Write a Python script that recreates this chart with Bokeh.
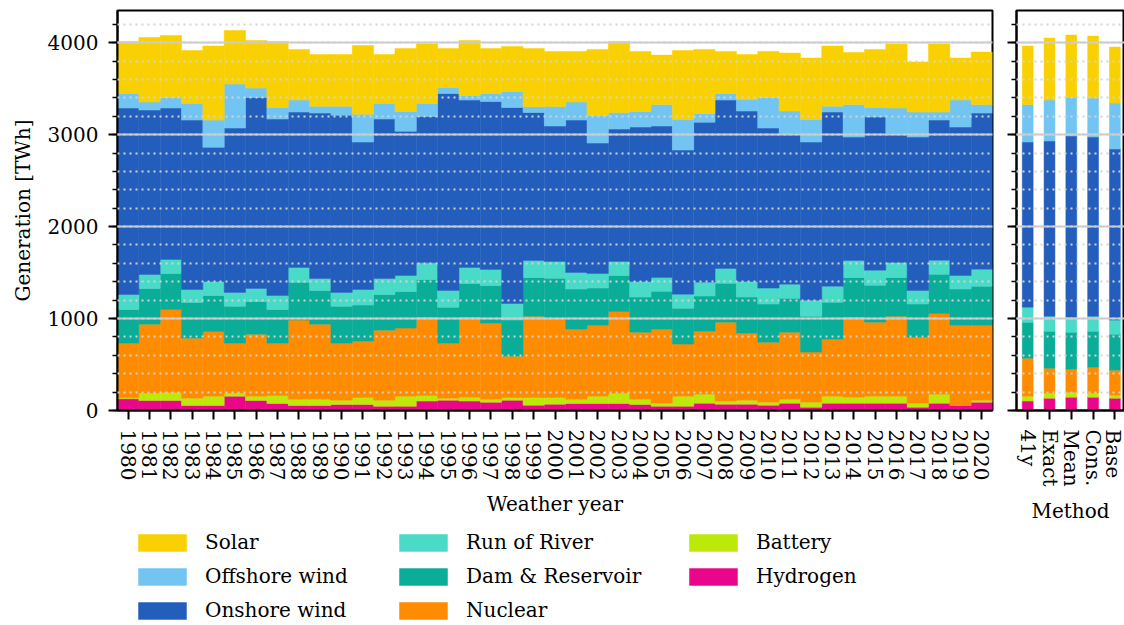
from bokeh.plotting import figure
from bokeh.layouts import row, column
from bokeh.models import (Range1d, FactorRange, Legend, LegendItem, FixedTicker,
                          SingleIntervalTicker, ColumnDataSource, CustomJSTickFormatter)
from bokeh.embed import file_html
from bokeh.resources import INLINE

# ---------------- data ----------------
years = [str(y) for y in range(1980, 2021)]
methods = ["41y", "Exact", "Mean", "Cons.", "Base"]

techs = ["Hydrogen", "Battery", "Nuclear", "Dam & Reservoir", "Run of River",
         "Onshore wind", "Offshore wind", "Solar"]
colors = ["#e9068a", "#bce90a", "#ff8c00", "#0aad98", "#4adbc8",
          "#235ebc", "#72c5f2", "#f9d002"]

# Weather-year values (TWh)
hydrogen = [127, 109, 109, 54, 54, 156, 109, 76, 54, 54, 65, 65, 47, 47, 102, 112, 102, 91, 112, 58,
            69, 76, 76, 76, 65, 47, 47, 80, 69, 69, 58, 80, 36, 80, 80, 80, 80, 36, 80, 58, 91]
battery = [11, 80, 87, 80, 102, 33, 47, 87, 69, 69, 47, 76, 65, 109, 61, 22, 43, 32, 29, 83,
           72, 47, 80, 113, 58, 33, 109, 98, 33, 43, 33, 43, 55, 76, 65, 76, 76, 44, 98, 0, 21]
nuclear = [594, 750, 903, 653, 703, 543, 674, 569, 860, 816, 620, 613, 762, 740, 852, 598, 870, 827, 450, 885,
           864, 762, 772, 888, 729, 805, 566, 685, 859, 729, 652, 729, 544, 620, 870, 805, 870, 718, 877, 870, 816]
dam = [367, 388, 391, 388, 392, 403, 356, 367, 413, 366, 403, 392, 388, 398, 410, 392, 366, 410, 392, 421,
       434, 435, 403, 391, 381, 413, 391, 381, 424, 392, 414, 370, 391, 402, 432, 402, 421, 359, 428, 392, 424]
ror = [163, 152, 153, 141, 152, 149, 141, 152, 159, 131, 149, 170, 174, 174, 181, 181, 174, 174, 181, 185,
       182, 181, 159, 153, 170, 149, 152, 152, 160, 170, 174, 152, 174, 174, 185, 163, 163, 148, 152, 148, 185]
onshore = [2027, 1788, 1646, 1842, 1461, 1787, 2078, 1918, 1690, 1798, 1928, 1603, 1733, 1570, 1592, 2143, 1821, 1827, 2132, 1609,
           1472, 1657, 1418, 1439, 1679, 1646, 1567, 1740, 1831, 1853, 1740, 1639, 1719, 1893, 1341, 1665, 1403, 1668, 1523, 1614, 1697]
offshore = [159, 87, 116, 181, 294, 479, 101, 127, 131, 76, 98, 304, 170, 214, 141, 65, 50, 87, 174, 62,
            214, 196, 301, 181, 170, 236, 333, 95, 72, 130, 334, 243, 246, 65, 356, 105, 276, 272, 87, 294, 95]
solar = [566, 703, 674, 577, 805, 583, 519, 718, 551, 562, 562, 747, 533, 686, 649, 425, 599, 490, 489, 635,
         598, 551, 718, 773, 653, 536, 751, 696, 457, 486, 500, 631, 668, 653, 565, 631, 696, 544, 740, 457, 569]

# Method values (TWh)
m_hydrogen = [102, 134, 145, 145, 134]
m_battery = [54, 55, 54, 44, 33]
m_nuclear = [413, 271, 251, 282, 272]
m_dam = [392, 403, 402, 392, 391]
m_ror = [163, 163, 163, 163, 153]
m_onshore = [1795, 1904, 1969, 1947, 1860]
m_offshore = [410, 446, 421, 425, 500]
m_solar = [634, 674, 678, 674, 609]

src1 = ColumnDataSource(dict(x=years, **{t: v for t, v in zip(
    techs, [hydrogen, battery, nuclear, dam, ror, onshore, offshore, solar])}))
src2 = ColumnDataSource(dict(x=list(range(len(methods))), **{t: v for t, v in zip(
    techs, [m_hydrogen, m_battery, m_nuclear, m_dam, m_ror, m_onshore, m_offshore, m_solar])}))

FONT = "DejaVu Serif"
FS = "20px"
H = 528
TOP = 10
BOTTOM = 118


def style(p):
    p.outline_line_color = "black"
    p.outline_line_width = 2
    p.outline_line_alpha = 1
    p.xgrid.visible = False
    g = p.ygrid[0]
    g.grid_line_color = "#cccccc"
    g.grid_line_width = 2
    g.minor_grid_line_color = "#d4d4d4"
    g.minor_grid_line_width = 2
    g.minor_grid_line_dash = "2 4"
    g.level = "overlay"
    for ax in p.axis:
        ax.axis_line_width = 2
        ax.axis_line_color = "black"
        ax.major_tick_in = 0
        ax.major_tick_out = 9
        ax.major_tick_line_width = 2
        ax.minor_tick_in = 0
        ax.minor_tick_out = 5
        ax.minor_tick_line_width = 1.5
        ax.major_label_text_font = FONT
        ax.major_label_text_font_size = FS
        ax.major_label_text_color = "black"
        ax.axis_label_text_font = FONT
        ax.axis_label_text_font_size = FS
        ax.axis_label_text_font_style = "normal"
        ax.axis_label_text_color = "black"
        ax.major_label_standoff = 10


# ---------------- panel 1 ----------------
p1 = figure(width=998, height=H, x_range=FactorRange(factors=years), y_range=Range1d(0, 4350),
            output_backend="svg", toolbar_location=None,
            min_border_left=117, min_border_right=6, min_border_top=TOP, min_border_bottom=BOTTOM)
p1.vbar_stack(techs, x="x", width=1.0, source=src1, color=colors, line_width=0.5)
p1.yaxis.ticker = SingleIntervalTicker(interval=1000, num_minor_ticks=5)
p1.xaxis.major_label_orientation = "vertical"
p1.yaxis.axis_label = "Generation [TWh]"
p1.xaxis.axis_label = "Weather year"
style(p1)
p1.yaxis.axis_label_standoff = 10
p1.xaxis.axis_label_standoff = 9

# ---------------- panel 2 ----------------
p2 = figure(width=126, height=H, x_range=Range1d(-0.514, 4.44), y_range=Range1d(0, 4350),
            output_backend="svg", toolbar_location=None,
            min_border_left=18, min_border_right=0, min_border_top=TOP, min_border_bottom=BOTTOM)
p2.vbar_stack(techs, x="x", width=0.5, source=src2, color=colors, line_width=0.5)
p2.yaxis.ticker = SingleIntervalTicker(interval=1000, num_minor_ticks=5)
p2.xaxis.ticker = FixedTicker(ticks=list(range(len(methods))), minor_ticks=[])
p2.xaxis.major_label_overrides = {i: m for i, m in enumerate(methods)}
p2.xaxis.major_label_orientation = "vertical"
p2.xaxis.axis_label = "Method"
style(p2)
p2.xaxis.axis_label_standoff = 9
p2.yaxis.formatter = CustomJSTickFormatter(code="return ''")
p2.yaxis.major_label_standoff = 0

# ---------------- legend (separate strip) ----------------
# The same stacked data drawn in a strip whose y-range lies above all values,
# so only the legend shows.
lf = figure(width=998, height=625 - H, x_range=FactorRange(factors=years), y_range=Range1d(5000, 6000),
            output_backend="svg", toolbar_location=None, x_axis_type=None, y_axis_type=None,
            min_border_left=0, min_border_right=0, min_border_top=0, min_border_bottom=0)
lf.outline_line_color = None
lf.grid.visible = False
rl = lf.vbar_stack(techs, x="x", width=1.0, source=src1, color=colors, line_width=0.5)
rmap = dict(zip(techs, rl))

cols = [["Solar", "Offshore wind", "Onshore wind"],
        ["Run of River", "Dam & Reservoir", "Nuclear"],
        ["Battery", "Hydrogen"]]
locs = [(132, 3), (393, 3), (683, 37)]
for names, loc in zip(cols, locs):
    lg = Legend(items=[LegendItem(label=n, renderers=[rmap[n]]) for n in names],
                location=loc, orientation="vertical",
                glyph_width=60, glyph_height=21, label_standoff=13, label_height=21,
                spacing=10, padding=0, margin=0,
                border_line_color=None, background_fill_alpha=0,
                label_text_font=FONT, label_text_font_size=FS, label_text_color="black")
    lf.add_layout(lg)

layout = column(row(p1, p2, spacing=0), lf, spacing=0)
open("out.html", "w").write(file_html(layout, INLINE))
